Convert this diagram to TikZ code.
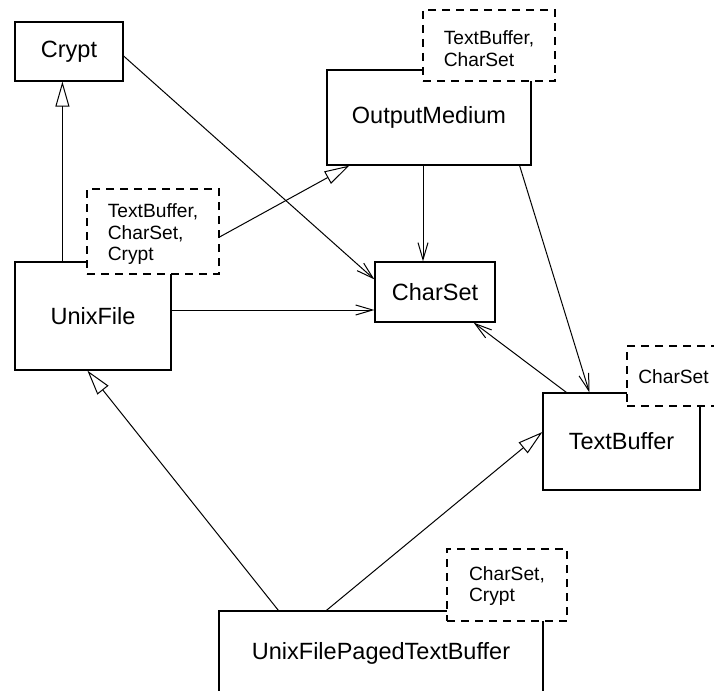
\documentclass[tikz,border=0pt]{standalone}
\usepackage{fontspec}
\setmainfont{Liberation Sans}
\usetikzlibrary{arrows.meta,calc}
\begin{document}
\begin{tikzpicture}[x=1pt,y=-1pt,
  cls/.style={draw,line width=1.2pt,fill=white,inner sep=0pt,
    font=\fontsize{23.5}{28}\selectfont},
  param/.style={draw,dash pattern=on 8pt off 6pt,line width=1.1pt,fill=white,
    inner sep=0pt,align=left,font=\fontsize{19.2}{21.5}\selectfont},
  dep/.style={line width=1pt,-{Straight Barb[length=17pt,width=10pt,line width=1pt]}},
  inh/.style={line width=1pt,-{Triangle[open,length=25pt,width=14pt,line width=1pt]}}]
\useasboundingbox (0,0) rectangle (714,690);

% classes
\node[cls,minimum width=108pt,minimum height=59pt] (crypt) at (69,51.5) {Crypt};
\node[cls,minimum width=204pt,minimum height=95pt] (om) at (429,117.5) {OutputMedium};
\node[cls,minimum width=156pt,minimum height=108pt] (uf) at (93,316) {UnixFile};
\node[cls,minimum width=120pt,minimum height=60pt] (cs) at (435,292) {CharSet};
\node[cls,minimum width=157pt,minimum height=97pt] (tb) at (621.5,441.5) {TextBuffer};
\node[cls,minimum width=324pt,minimum height=85pt] (uftb) at (381,653.5) {UnixFilePagedTextBuffer};

% attachment points
\coordinate (ufTop) at ($(uf.north west)+(48,0)$);
\coordinate (cryptOut) at ($(crypt.east)+(0,4.5)$);
\coordinate (csIn) at ($(cs.north west)+(0,18)$);
\coordinate (ufOut) at ($(uf.east)+(0,-6)$);
\coordinate (omDown) at ($(om.south)+(-6,0)$);
\coordinate (omOut) at ($(om.south east)+(-12,0)$);
\coordinate (tbIn) at ($(tb.north west)+(47,0)$);
\coordinate (tbOut) at ($(tb.north west)+(24,0)$);
\coordinate (csBot) at ($(cs.south east)+(-22,0)$);
\coordinate (omIn) at ($(om.south west)+(23,0)$);
\coordinate (uftbL) at ($(uftb.north west)+(60,0)$);
\coordinate (uftbR) at ($(uftb.north west)+(108,0)$);
\coordinate (ufBot) at ($(uf.south west)+(73,0)$);
\coordinate (tbLeft) at ($(tb.west)+(0,-9.5)$);

% relations
\draw[inh] (ufTop) -- (ufTop |- crypt.south);
\draw[dep] (cryptOut) -- (csIn);
\draw[dep] (ufOut) -- (ufOut -| cs.west);
\draw[dep] (omDown) -- (omDown |- cs.north);
\draw[dep] (omOut) -- (tbIn);
\draw[dep] (tbOut) -- (csBot);
\draw[inh] (uftbL) -- (ufBot);
\draw[inh] (uftbR) -- (tbLeft);

% template parameters (dashed boxes), text set slightly below centre
\node[param,minimum width=132pt,minimum height=71pt] (omp) at (489,45.5) {};
\node[param,draw=none,fill=none] (ompt) at ($(omp.center)+(0,3)$) {TextBuffer,\\CharSet};
\node[param,minimum width=132pt,minimum height=85pt] (ufp) at (153,231.5) {};
\node[param,draw=none,fill=none] (ufpt) at ($(ufp.center)+(0,3)$) {TextBuffer,\\CharSet,\\Crypt};
\node[param,minimum width=93pt,minimum height=60pt] (tbp) at (673.5,376) {};
\node[param,draw=none,fill=none] (tbpt) at ($(tbp.center)+(0,1)$) {CharSet};
\node[param,minimum width=120pt,minimum height=72pt] (uftbp) at (507,585) {};
\node[param,draw=none,fill=none] (uftbpt) at ($(uftbp.center)+(0,1)$) {CharSet,\\Crypt};

\coordinate (ufpOut) at ($(ufp.east)+(0,5.5)$);
\draw[inh] (ufpOut) -- (omIn);
\end{tikzpicture}
\end{document}
